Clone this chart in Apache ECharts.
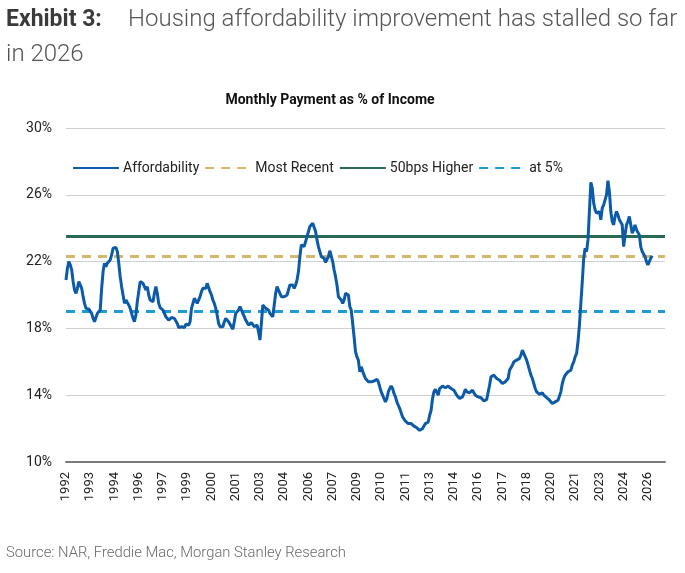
<!DOCTYPE html>
<html>
<head>
<meta charset="utf-8">
<script src="https://cdn.jsdelivr.net/npm/echarts@6/dist/echarts.min.js"></script>
<style>
  html, body { margin: 0; padding: 0; background: #fff; }
  #chart { width: 685px; height: 573px; }
</style>
</head>
<body>
<div id="chart"></div>
<script>
// monthly series, Jan 1992 onwards (one row per year)
const startYear = 1992;
const affordability = [
  20.9, 21.6, 22.0, 21.8, 21.5, 20.8, 20.3, 20.1, 20.4, 20.8, 20.7, 20.4,   // 1992
  19.9, 19.5, 19.2, 19.2, 19.15, 19.1, 18.9, 18.6, 18.4, 18.3, 18.9, 19.0, // 1993
  19.1, 20.4, 21.4, 21.9, 21.7, 21.9, 21.8, 22.1, 22.4, 22.8, 22.9, 22.85, // 1994
  22.6, 21.9, 21.1, 20.5, 20.0, 19.5, 19.7, 19.8, 19.4, 19.2, 18.9, 18.6,  // 1995
  18.4, 18.8, 19.6, 20.2, 20.8, 20.8, 20.7, 20.8, 20.3, 20.5, 20.0, 19.7,  // 1996
  19.8, 19.6, 20.1, 20.5, 20.1, 19.5, 19.25, 19.2, 19.1, 18.9, 18.7, 18.6, // 1997
  18.5, 18.5, 18.65, 18.7, 18.6, 18.5, 18.3, 18.05, 18.0, 18.1, 18.1, 18.05, // 1998
  18.25, 18.3, 18.2, 18.4, 19.2, 19.5, 19.8, 19.7, 19.5, 19.4, 19.9, 20.2, // 1999
  20.4, 20.3, 20.4, 20.7, 20.8, 20.2, 20.0, 19.7, 19.5, 19.2, 18.8, 18.3,  // 2000
  18.1, 18.05, 18.1, 18.4, 18.6, 18.5, 18.4, 18.3, 18.1, 17.95, 18.4, 18.9, // 2001
  19.0, 19.1, 19.3, 19.1, 18.9, 18.7, 18.5, 18.4, 18.2, 18.15, 18.35, 18.3, // 2002
  18.1, 18.2, 18.2, 17.8, 17.3, 18.3, 19.4, 19.4, 19.2, 19.2, 19.1, 18.9,  // 2003
  18.8, 18.7, 19.4, 20.1, 20.5, 20.3, 20.1, 19.9, 19.8, 19.9, 20.0, 20.0,  // 2004
  20.1, 20.6, 20.7, 20.6, 20.4, 20.6, 20.9, 21.4, 22.3, 23.0, 22.9, 22.9,  // 2005
  23.2, 23.5, 23.8, 24.1, 24.2, 24.3, 24.4, 23.8, 23.3, 22.9, 22.6, 22.3,  // 2006
  22.25, 22.2, 21.95, 21.9, 22.3, 22.65, 22.55, 22.0, 21.5, 21.1, 20.6, 19.9, // 2007
  19.8, 19.7, 19.5, 19.7, 20.1, 20.1, 20.0, 19.3, 19.1, 19.0, 17.5, 16.6,  // 2008
  16.3, 16.1, 15.4, 15.7, 15.8, 15.2, 15.0, 14.9, 14.8, 14.7, 14.8, 14.8,  // 2009
  14.85, 14.9, 14.95, 14.8, 14.5, 14.2, 14.0, 13.8, 13.6, 13.8, 14.2, 14.4, // 2010
  14.55, 14.4, 14.1, 13.9, 13.6, 13.4, 13.2, 12.95, 12.7, 12.6, 12.45, 12.35, // 2011
  12.3, 12.25, 12.3, 12.25, 12.15, 12.1, 12.05, 12.0, 11.9, 11.95, 12.0, 12.15, // 2012
  12.3, 12.4, 12.4, 12.8, 13.1, 13.8, 14.2, 14.35, 14.3, 14.0, 14.4, 14.5, // 2013
  14.55, 14.5, 14.45, 14.5, 14.55, 14.5, 14.4, 14.35, 14.3, 14.2, 14.0, 13.9, // 2014
  13.8, 13.85, 13.9, 14.1, 14.35, 14.2, 14.1, 14.15, 14.2, 14.3, 14.25, 14.0, // 2015
  13.95, 13.9, 13.9, 13.85, 13.75, 13.65, 13.7, 13.75, 13.8, 14.6, 15.1, 15.15, // 2016
  15.2, 15.1, 15.0, 14.9, 14.9, 14.8, 14.7, 14.7, 14.8, 14.9, 15.0, 15.5,  // 2017
  15.65, 15.8, 16.0, 16.1, 16.1, 16.1, 16.2, 16.4, 16.7, 16.6, 16.3, 16.1, // 2018
  15.8, 15.5, 15.2, 15.0, 14.7, 14.4, 14.2, 14.1, 14.05, 14.1, 14.15, 14.0, // 2019
  13.95, 13.85, 13.75, 13.7, 13.6, 13.5, 13.55, 13.6, 13.65, 13.7, 13.8, 14.2, // 2020
  14.7, 15.0, 15.2, 15.3, 15.4, 15.5, 15.5, 15.8, 16.0, 16.3, 16.5, 17.2,  // 2021
  18.2, 19.5, 20.8, 22.2, 22.8, 22.6, 23.3, 25.0, 26.75, 26.4, 25.5, 25.1, // 2022
  24.9, 24.8, 25.0, 24.5, 25.2, 25.4, 25.7, 26.0, 26.85, 26.2, 25.0, 24.4, // 2023
  24.2, 24.7, 25.0, 24.8, 24.5, 24.4, 24.2, 22.9, 23.6, 24.2, 24.4, 24.7,  // 2024
  24.2, 23.7, 23.9, 24.2, 23.9, 24.0, 23.6, 22.9, 22.6, 22.5, 22.3, 22.0,  // 2025
  21.8, 22.0, 22.2, 22.35                                                  // 2026
];
const monthCount = 421; // axis runs Jan 1992 - Jan 2027

const refNames = ['Most Recent', '50bps Higher', 'at 5%'];
const refValues = [22.3, 23.5, 19.0];
const refColors = ['#D3B86E', '#2A6A52', '#1C9BD8'];
const refDashed = [true, false, true];

const yTicks = [10, 14, 18, 22, 26, 30];

const months = [];
for (let i = 0; i < monthCount; i++) {
  const y = startYear + Math.floor(i / 12);
  const m = (i % 12) + 1;
  months.push(y + '-' + (m < 10 ? '0' + m : m));
}

const font = 'Roboto, sans-serif';

const refSeries = refNames.map((name, i) => {
  const ls = {
    color: refColors[i],
    width: 3,
    type: refDashed[i] ? [9, 7] : 'solid',
  };
  return {
    name: name,
    type: 'line',
    data: [],
    symbol: 'none',
    itemStyle: { color: refColors[i] },
    lineStyle: ls,
    markLine: {
      silent: true,
      symbol: ['none', 'none'],
      label: { show: false },
      lineStyle: ls,
      emphasis: { disabled: true },
      data: [{ yAxis: refValues[i] }],
    },
  };
});

const chart = echarts.init(document.getElementById('chart'));

chart.setOption({
  animation: false,
  title: [
    {
      left: 1,
      top: 4,
      text: 'Exhibit 3:',
      textStyle: { fontFamily: font, fontWeight: 'bold', fontSize: 23, color: '#3a3a3a' },
    },
    {
      left: 123,
      top: 3,
      text: 'Housing affordability improvement has stalled so far',
      textStyle: { fontFamily: font, fontWeight: 300, fontSize: 24, color: '#555' },
    },
    {
      left: 1,
      top: 38,
      text: 'in 2026',
      textStyle: { fontFamily: font, fontWeight: 300, fontSize: 24, color: '#555' },
    },
    {
      left: 325,
      textAlign: 'center',
      top: 88,
      text: 'Monthly Payment as % of Income',
      textStyle: { fontFamily: font, fontWeight: 'bold', fontSize: 14, color: '#111' },
    },
    {
      left: 1,
      top: 541,
      text: 'Source: NAR, Freddie Mac, Morgan Stanley Research',
      textStyle: { fontFamily: font, fontWeight: 300, fontSize: 14.8, color: '#6a6a6a' },
    },
  ],
  legend: {
    left: 67,
    top: 156,
    itemWidth: 46,
    itemHeight: 14,
    itemGap: 5,
    data: ['Affordability'].concat(refNames),
    itemStyle: { opacity: 0 },
    textStyle: { fontFamily: font, fontSize: 14, color: '#222', padding: [0, 0, 0, -1] },
  },
  grid: { left: 66, right: 20, top: 128, bottom: 111 },
  xAxis: {
    type: 'category',
    data: months,
    boundaryGap: false,
    axisLine: { lineStyle: { color: '#7a7a7a', width: 2 } },
    axisTick: { show: false },
    axisLabel: {
      interval: 16,
      rotate: 90,
      margin: 10,
      fontFamily: font,
      fontSize: 13,
      color: '#222',
      formatter: (v) => v.slice(0, 4),
    },
    splitLine: { show: false },
  },
  yAxis: {
    type: 'value',
    min: yTicks[0],
    max: yTicks[yTicks.length - 1],
    interval: 4,
    axisLine: { show: false },
    axisTick: { show: false },
    axisLabel: {
      margin: 14,
      fontFamily: font,
      fontSize: 14,
      color: '#222',
      formatter: '{value}%',
    },
    splitLine: { lineStyle: { color: '#d0d0d0', width: 1.2 } },
  },
  series: [
    {
      name: 'Affordability',
      type: 'line',
      data: affordability,
      symbol: 'none',
      z: 5,
      itemStyle: { color: '#0B5BA8' },
      lineStyle: { color: '#0B5BA8', width: 3 },
    },
  ].concat(refSeries),
});
</script>
</body>
</html>
